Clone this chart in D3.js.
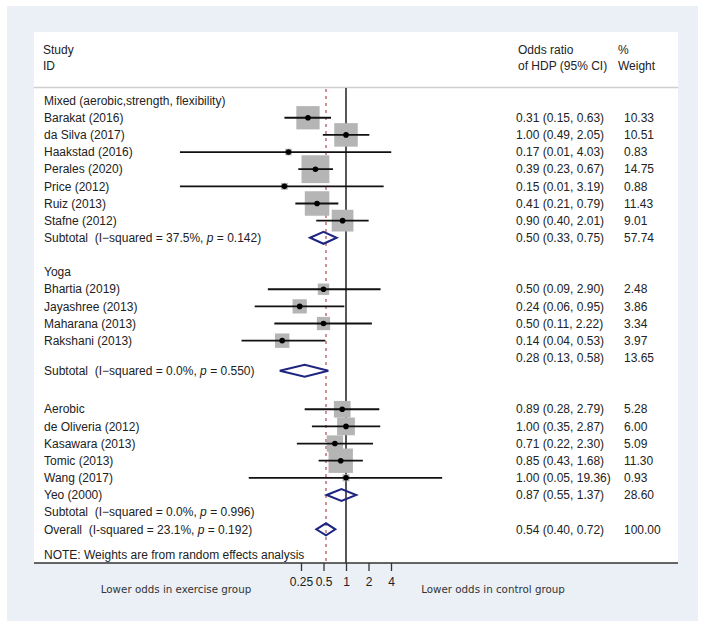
<!DOCTYPE html>
<html>
<head>
<meta charset="utf-8">
<script src="https://cdn.jsdelivr.net/npm/d3@7"></script>
<style>
  body { margin: 0; background: #fff; }
  text { font-family: 'Liberation Sans', Arial, sans-serif; font-size: 12px; fill: #222; }
  .axis-note { font-family: 'DejaVu Sans', Verdana, sans-serif; font-size: 10.3px; fill: #333; }
  .tick text { font-family: 'Liberation Sans', Arial, sans-serif; font-size: 12px; }
</style>
</head>
<body>
<svg width="705" height="627"></svg>
<script>
// studies (row = line of the table, from the top of the body)
const studyRows   = [1, 2, 3, 4, 5, 6, 7, 11, 12, 13, 14, 18, 19, 20, 21, 22];
const studyOR     = [0.31, 1.00, 0.17, 0.39, 0.15, 0.41, 0.90, 0.50, 0.24, 0.50, 0.14, 0.89, 1.00, 0.71, 0.85, 1.00];
const studyLo     = [0.15, 0.49, 0.006, 0.23, 0.006, 0.21, 0.40, 0.09, 0.06, 0.11, 0.04, 0.28, 0.35, 0.22, 0.43, 0.05];
const studyHi     = [0.63, 2.05, 4.03, 0.67, 3.19, 0.79, 2.01, 2.90, 0.95, 2.22, 0.53, 2.79, 2.87, 2.30, 1.68, 19.36];
const studyWeight = [10.33, 10.51, 0.83, 14.75, 0.88, 11.43, 9.01, 2.48, 3.86, 3.34, 3.97, 5.28, 6.00, 5.09, 11.30, 0.93];

// pooled estimates: mixed, yoga, aerobic subtotals and overall
const pooledRows    = [8, 15.75, 23, 25];
const pooledTextRow = [8, 15, 23, 25];
const pooledOR      = [0.50, 0.28, 0.87, 0.54];
const pooledLo      = [0.33, 0.13, 0.55, 0.40];
const pooledHi      = [0.75, 0.58, 1.37, 0.72];
const pooledWeight  = [57.74, 13.65, 28.60, 100.00];

// left column labels
const labelText = ['Mixed (aerobic,strength, flexibility)', 'Barakat (2016)', 'da Silva (2017)', 'Haakstad (2016)',
  'Perales (2020)', 'Price (2012)', 'Ruiz (2013)', 'Stafne (2012)',
  'Yoga', 'Bhartia (2019)', 'Jayashree (2013)', 'Maharana (2013)', 'Rakshani (2013)',
  'Aerobic', 'de Oliveria (2012)', 'Kasawara (2013)', 'Tomic (2013)', 'Wang (2017)', 'Yeo (2000)'];
const labelRow = [0, 1, 2, 3, 4, 5, 6, 7, 10, 11, 12, 13, 14, 18, 19, 20, 21, 22, 23];

const hetName = ['Subtotal', 'Subtotal', 'Subtotal', 'Overall'];
const hetI2   = ['37.5%', '0.0%', '0.0%', '23.1%'];
const hetP    = ['0.142', '0.550', '0.996', '0.192'];
const hetDash = ['\u2212', '\u2212', '\u2212', '-'];
const hetRow  = [8, 15.75, 24, 25];

const xTicks = [0.25, 0.5, 1, 2, 4];
const xTickLabels = ['0.25', '0.5', '1', '2', '4'];

const svg = d3.select('svg');
const width = +svg.attr('width');
const height = +svg.attr('height');

const panel = { left: 34, top: 32, right: 678, bottom: 563 };
const colOR = 516, colW = 624;

// background
svg.append('rect').attr('x', 7).attr('y', 6).attr('width', 691).attr('height', 615).attr('fill', '#eaf0f5');
svg.append('rect').attr('x', panel.left).attr('y', panel.top)
  .attr('width', panel.right - panel.left).attr('height', panel.bottom - panel.top).attr('fill', '#fff');

const xScale = d3.scaleLog().base(2).domain([0.25, 4]).range([301, 391]);
const yScale = d3.scaleLinear().domain([0, 25]).range([100.6, 529.3]);
const side = d3.scaleSqrt().domain([0, 100]).range([0, 72.5]);
const fmt = v => v.toFixed(2);

// header
const head = svg.append('g');
[['Study', 'ID', 43], ['Odds ratio', 'of HDP (95% CI)', 518], ['%', 'Weight', 618]].forEach(h => {
  head.append('text').attr('x', h[2]).attr('y', 49.3).attr('dy', '0.35em').text(h[0]);
  head.append('text').attr('x', h[2]).attr('y', 66).attr('dy', '0.35em').text(h[1]);
});
svg.append('line').attr('x1', panel.left).attr('x2', panel.right).attr('y1', 87.5).attr('y2', 87.5)
  .attr('stroke', '#cfcfcf').attr('stroke-width', 1.5);

// reference lines
svg.append('line').attr('x1', xScale(1)).attr('x2', xScale(1)).attr('y1', 88).attr('y2', panel.bottom)
  .attr('stroke', '#111').attr('stroke-width', 1.4);
svg.append('line').attr('x1', xScale(pooledOR[3])).attr('x2', xScale(pooledOR[3])).attr('y1', 89).attr('y2', panel.bottom)
  .attr('stroke', '#b34a52').attr('stroke-width', 1.2).attr('stroke-dasharray', '3,4');

const studies = studyRows.map((r, i) => ({ row: r, or: studyOR[i], lo: studyLo[i], hi: studyHi[i], w: studyWeight[i] }));
const pooled = pooledRows.map((r, i) => ({ row: r, textRow: pooledTextRow[i], or: pooledOR[i], lo: pooledLo[i], hi: pooledHi[i], w: pooledWeight[i] }));

const g = svg.append('g');
g.selectAll('rect.box').data(studies).enter().append('rect').attr('class', 'box')
  .attr('x', d => xScale(d.or) - side(d.w) / 2)
  .attr('y', d => yScale(d.row) - side(d.w) / 2)
  .attr('width', d => side(d.w)).attr('height', d => side(d.w))
  .attr('fill', '#b5b5b5');
g.selectAll('line.ci').data(studies).enter().append('line').attr('class', 'ci')
  .attr('x1', d => xScale(d.lo)).attr('x2', d => xScale(d.hi))
  .attr('y1', d => yScale(d.row)).attr('y2', d => yScale(d.row))
  .attr('stroke', '#111').attr('stroke-width', 1.8);
g.selectAll('circle').data(studies).enter().append('circle')
  .attr('cx', d => xScale(d.or)).attr('cy', d => yScale(d.row)).attr('r', 2.8).attr('fill', '#000');

g.selectAll('path.diamond').data(pooled).enter().append('path').attr('class', 'diamond')
  .attr('d', d => {
    const y = yScale(d.row);
    return `M${xScale(d.lo)},${y}L${xScale(d.or)},${y - 6}L${xScale(d.hi)},${y}L${xScale(d.or)},${y + 6}Z`;
  })
  .attr('fill', 'none').attr('stroke', '#1d2580').attr('stroke-width', 2);

// left labels
svg.selectAll('text.label').data(labelText).enter().append('text').attr('class', 'label')
  .attr('x', 44).attr('y', (d, i) => yScale(labelRow[i])).attr('dy', '0.35em').text(d => d);

hetName.forEach((n, i) => {
  const t = svg.append('text').attr('x', 44).attr('y', yScale(hetRow[i])).attr('dy', '0.35em')
    .style('white-space', 'pre');
  t.append('tspan').text(`${n}  (I${hetDash[i]}squared = ${hetI2[i]}, `);
  t.append('tspan').style('font-style', 'italic').text('p');
  t.append('tspan').text(` = ${hetP[i]})`);
});
svg.append('text').attr('x', 44).attr('y', yScale(26.5)).attr('dy', '0.35em')
  .text('NOTE: Weights are from random effects analysis');

// right columns
const rows = studies.concat(pooled.map(d => ({ row: d.textRow, or: d.or, lo: d.lo, hi: d.hi, w: d.w })));
svg.selectAll('text.or').data(rows).enter().append('text').attr('class', 'or')
  .attr('x', colOR).attr('y', d => yScale(d.row)).attr('dy', '0.35em')
  .text(d => `${fmt(d.or)} (${fmt(d.lo)}, ${fmt(d.hi)})`);
svg.selectAll('text.wt').data(rows).enter().append('text').attr('class', 'wt')
  .attr('x', colW).attr('y', d => yScale(d.row)).attr('dy', '0.35em')
  .text(d => fmt(d.w));

// x axis
svg.append('line').attr('x1', panel.left).attr('x2', panel.right).attr('y1', panel.bottom).attr('y2', panel.bottom)
  .attr('stroke', '#333').attr('stroke-width', 1.5);
const xAxis = d3.axisBottom(xScale).tickValues(xTicks).tickFormat((d, i) => xTickLabels[i])
  .tickSize(8).tickPadding(6);
const xAxisG = svg.append('g').attr('transform', `translate(0,${panel.bottom})`).call(xAxis);
xAxisG.select('.domain').remove();
xAxisG.selectAll('.tick line').attr('stroke', '#333').attr('stroke-width', 1.3);
xAxisG.selectAll('.tick text').attr('fill', '#222');

svg.append('text').attr('class', 'axis-note').attr('x', 176).attr('y', 589).attr('dy', '0.35em')
  .attr('text-anchor', 'middle').text('Lower odds in exercise group');
svg.append('text').attr('class', 'axis-note').attr('x', 493).attr('y', 589).attr('dy', '0.35em')
  .attr('text-anchor', 'middle').text('Lower odds in control group');
</script>
</body>
</html>
